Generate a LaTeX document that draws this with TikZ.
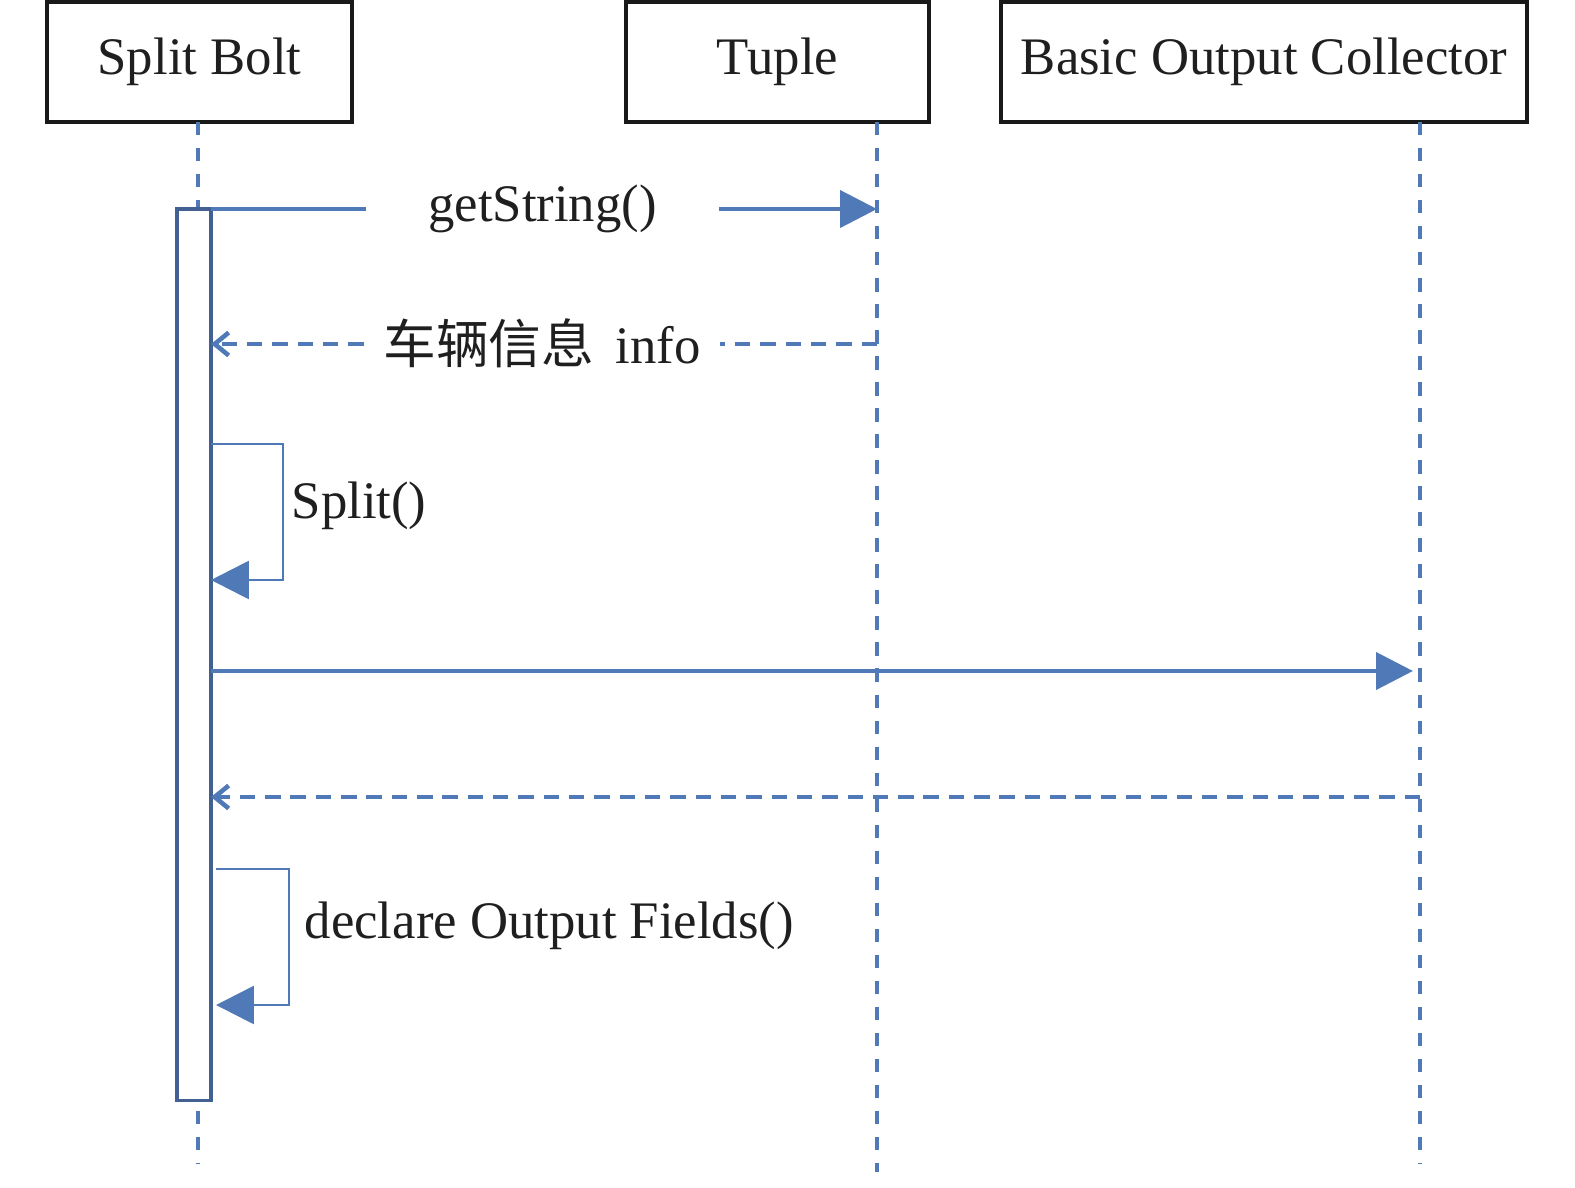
\documentclass[tikz,border=0pt]{standalone}
\usepackage{fontspec}
\setmainfont{Liberation Serif}
\newfontfamily\cjk{Noto Sans CJK SC}
\usetikzlibrary{arrows.meta}
\definecolor{umlblue}{RGB}{79,121,183}
\definecolor{actblue}{RGB}{66,96,146}
\begin{document}
\begin{tikzpicture}[x=0.01cm,y=-0.01cm,
  every node/.style={font=\fontsize{15}{18}\selectfont, text=black!88},
  objbox/.style={draw=black!90,line width=1pt,minimum height=1.2cm,inner sep=0pt},
  lifeline/.style={draw=umlblue,line width=1pt,dash pattern=on 3.8pt off 3.6pt},
  actbox/.style={draw=actblue,fill=white,line width=1pt,minimum width=0.34cm,minimum height=8.91cm,inner sep=0pt},
  plainmsg/.style={draw=umlblue,line width=1.2pt},
  callmsg/.style={draw=umlblue,line width=1.2pt,-{Triangle[length=10.5pt,width=10.5pt]}},
  retline/.style={draw=umlblue,line width=1.4pt,dash pattern=on 4.4pt off 2.8pt},
  retmsg/.style={retline,-{Straight Barb[length=4pt,width=6.5pt,line width=1.3pt]}},
  selfmsg/.style={draw=umlblue,line width=0.8pt,-{Triangle[length=10.8pt,width=10.8pt]}},
  lbl/.style={inner sep=0pt}
]
\useasboundingbox (0,0) rectangle (1575,1187);

% objects
\node[objbox,minimum width=3.05cm] (sb) at (199.5,62) {Split Bolt};
\node[objbox,minimum width=3.03cm] (tp) at (777.5,62) {Tuple};
\node[objbox,minimum width=5.26cm] (boc) at (1264,62) {Basic Output Collector};

% lifeline ends
\coordinate (sbtop) at (198,122);
\coordinate (sbend) at (198,1163);
\coordinate (tptop) at (877,122);
\coordinate (tpend) at (877,1172);
\coordinate (boctop) at (1420,122);
\coordinate (bocend) at (1420,1163);

\draw[lifeline] (sbtop) -- (sbend);
\draw[lifeline] (tptop) -- (tpend);
\draw[lifeline] (boctop) -- (bocend);

% activation
\node[actbox] (act) at (194,654.5) {};

% getString()
\coordinate (gs0) at (211,209);
\coordinate (gs1) at (877,209);
\node[lbl,minimum width=3.51cm] (gslbl) at (542.5,209) {getString()};
\draw[plainmsg] (gs0) -- (gslbl.west |- gs0);
\draw[callmsg] (gslbl.east |- gs1) -- (gs1);

% return info
\coordinate (in0) at (877,344);
\coordinate (in1) at (211,344);
\node[lbl,minimum width=3.55cm] (inlbl) at (542,343) {{\cjk 车辆信息}\hspace{6pt}info};
\draw[retline] (in0) -- (inlbl.east |- in0);
\draw[retmsg] (inlbl.west |- in1) -- (in1);

% Split() self call
\coordinate (sp0) at (211,444);
\coordinate (sp1) at (283,444);
\coordinate (sp2) at (283,580);
\coordinate (sp3) at (211,580);
\draw[selfmsg] (sp0) -- (sp1) -- (sp2) -- (sp3);
\node[lbl,anchor=west] (splbl) at (291,506) {Split()};

% call to collector
\coordinate (em0) at (211,671);
\coordinate (em1) at (1420,671);
\draw[callmsg,shorten >=2pt] (em0) -- (em1);

% return from collector
\coordinate (rt0) at (1420,797);
\coordinate (rt1) at (211,797);
\draw[retmsg] (rt0) -- (rt1);

% declare Output Fields() self call
\coordinate (dc0) at (216,869);
\coordinate (dc1) at (289,869);
\coordinate (dc2) at (289,1005);
\coordinate (dc3) at (216,1005);
\draw[selfmsg] (dc0) -- (dc1) -- (dc2) -- (dc3);
\node[lbl,anchor=west] (dclbl) at (304,926) {declare Output Fields()};
\end{tikzpicture}
\end{document}
